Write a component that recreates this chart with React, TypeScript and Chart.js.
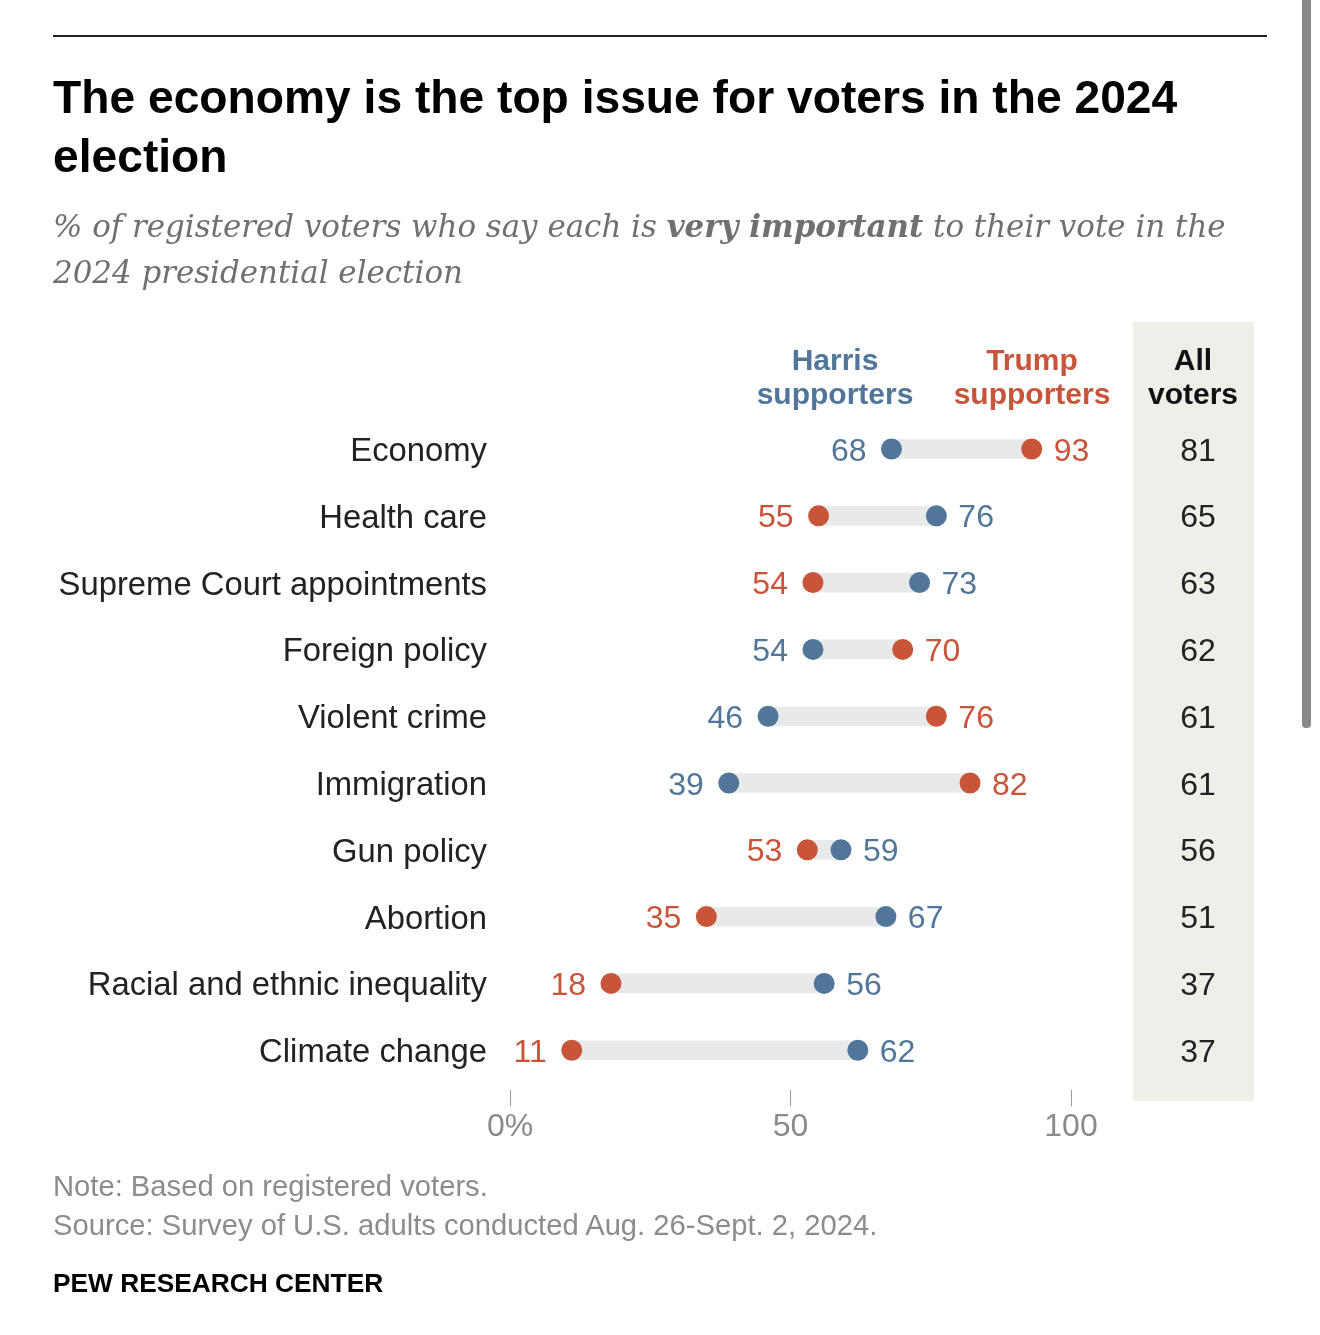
import React, { useEffect, useRef } from "react";
import { Chart, registerables } from "chart.js";

Chart.register(...registerables);

const categories = [
  "Economy",
  "Health care",
  "Supreme Court appointments",
  "Foreign policy",
  "Violent crime",
  "Immigration",
  "Gun policy",
  "Abortion",
  "Racial and ethnic inequality",
  "Climate change",
];
const harris = [68, 76, 73, 54, 46, 39, 59, 67, 56, 62];
const trump = [93, 55, 54, 70, 76, 82, 53, 35, 18, 11];
const allVoters = [81, 65, 63, 62, 61, 61, 56, 51, 37, 37];
const xTicks = [0, 50, 100];

const HARRIS = "#52769a";
const TRUMP = "#c8553a";
const SANS = "'Liberation Sans', Arial, sans-serif";

const labelsPlugin = {
  id: "dotLabels",
  beforeDatasetsDraw(chart: any) {
    const ctx = chart.ctx;
    ctx.save();
    ctx.fillStyle = "#efeee8";
    ctx.fillRect(1133, 322, 121, 779);
    ctx.restore();
  },
  afterDatasetsDraw(chart: any) {
    const ctx = chart.ctx;
    const xs = chart.scales.x;
    const ys = chart.scales.y;
    ctx.save();
    ctx.font = `32px ${SANS}`;
    ctx.textBaseline = "alphabetic";
    categories.forEach((_, i) => {
      const y = ys.getPixelForValue(i) + 11.5;
      const h = harris[i];
      const t = trump[i];
      const lowIsH = h <= t;
      const low = lowIsH ? h : t;
      const high = lowIsH ? t : h;
      ctx.textAlign = "right";
      ctx.fillStyle = lowIsH ? HARRIS : TRUMP;
      ctx.fillText(String(low), xs.getPixelForValue(low) - 25, y);
      ctx.textAlign = "left";
      ctx.fillStyle = lowIsH ? TRUMP : HARRIS;
      ctx.fillText(String(high), xs.getPixelForValue(high) + 22, y);
      ctx.textAlign = "center";
      ctx.fillStyle = "#222";
      ctx.fillText(String(allVoters[i]), 1198, y);
    });
    ctx.font = `bold 30px ${SANS}`;
    ctx.textAlign = "center";
    ctx.fillStyle = HARRIS;
    ctx.fillText("Harris", 835, 370);
    ctx.fillText("supporters", 835, 404);
    ctx.fillStyle = TRUMP;
    ctx.fillText("Trump", 1032, 370);
    ctx.fillText("supporters", 1032, 404);
    ctx.fillStyle = "#111";
    ctx.fillText("All", 1193, 370);
    ctx.fillText("voters", 1193, 404);
    ctx.restore();
  },
};

function DotChart() {
  const ref = useRef<HTMLCanvasElement | null>(null);
  useEffect(() => {
    if (!ref.current) return;
    const chart = new Chart(ref.current, {
      type: "bar",
      data: {
        datasets: [
          {
            type: "scatter",
            label: "Harris supporters",
            data: harris.map((v, i) => ({ x: v, y: i })),
            backgroundColor: HARRIS,
            borderWidth: 0,
            pointRadius: 10.5,
            order: 0,
          } as any,
          {
            type: "scatter",
            label: "Trump supporters",
            data: trump.map((v, i) => ({ x: v, y: i })),
            backgroundColor: TRUMP,
            borderWidth: 0,
            pointRadius: 10.5,
            order: 0,
          } as any,
          {
            type: "bar",
            label: "gap",
            data: harris.map((v, i) => ({ x: [Math.min(v, trump[i]), Math.max(v, trump[i])], y: i })),
            backgroundColor: "#e8e9ea",
            borderWidth: 0,
            barThickness: 19,
            order: 1,
          } as any,
        ],
      },
      options: {
        indexAxis: "y",
        animation: false,
        responsive: false,
        devicePixelRatio: 1,
        layout: { padding: { left: 0, right: 249, top: 415.6, bottom: 0 } },
        plugins: { legend: { display: false }, tooltip: { enabled: false } },
        scales: {
          x: {
            type: "linear",
            position: "bottom",
            min: 0,
            max: 100,
            offset: false,
            afterBuildTicks: (axis: any) => {
              axis.ticks = xTicks.map((v) => ({ value: v }));
            },
            afterFit: (axis: any) => {
              axis.height = 244.7;
            },
            border: { display: false },
            grid: { drawOnChartArea: false, drawTicks: true, tickLength: 16, color: "#9a9a9a", lineWidth: 1, offset: false },
            ticks: {
              padding: 2,
              color: "#8a8a8a",
              font: { family: SANS, size: 32 },
              callback: (v: any) => (v === 0 ? "0%" : String(v)),
              maxRotation: 0,
            },
          },
          y: {
            type: "linear",
            min: -0.5,
            max: 9.6,
            reverse: true,
            offset: false,
            afterBuildTicks: (axis: any) => {
              axis.ticks = categories.map((_, i) => ({ value: i }));
            },
            afterFit: (axis: any) => {
              axis.width = 510;
            },
            border: { display: false },
            grid: { display: false, offset: false },
            ticks: {
              padding: 15,
              labelOffset: 3,
              color: "#222",
              font: { family: SANS, size: 32.8 },
              callback: (v: any) => categories[v] ?? "",
            },
          },
        },
      } as any,
      plugins: [labelsPlugin],
    });
    return () => chart.destroy();
  }, []);
  return (
    <canvas
      ref={ref}
      width={1320}
      height={1335}
      style={{ position: "absolute", left: 0, top: 0, width: 1320, height: 1335 }}
    />
  );
}

export default function App() {
  const abs: React.CSSProperties = { position: "absolute", whiteSpace: "nowrap" };
  return (
    <div style={{ position: "absolute", left: 0, top: 0, width: 1320, height: 1335, background: "#fff", overflow: "hidden" }}>
      <DotChart />
      <div style={{ ...abs, left: 53, top: 35, width: 1214, height: 2, background: "#222" }} />
      <div
        style={{
          ...abs,
          left: 53,
          top: 67.6,
          fontFamily: SANS,
          fontWeight: "bold",
          fontSize: 46.2,
          lineHeight: "59px",
          color: "#000",
        }}
      >
        The economy is the top issue for voters in the 2024
        <br />
        election
      </div>
      <div
        style={{
          ...abs,
          left: 53,
          top: 203,
          fontFamily: "'DejaVu Serif', serif",
          fontStyle: "italic",
          fontSize: 30.9,
          lineHeight: "46px",
          color: "#707070",
        }}
      >
        % of registered voters who say each is <b>very important</b> to their vote in the
        <br />
        2024 presidential election
      </div>
      <div style={{ ...abs, left: 53, top: 1167, fontFamily: SANS, fontSize: 29.2, lineHeight: "39px", color: "#8c8c8c" }}>
        Note: Based on registered voters.
        <br />
        Source: Survey of U.S. adults conducted Aug. 26-Sept. 2, 2024.
      </div>
      <div style={{ ...abs, left: 53, top: 1268, fontFamily: SANS, fontWeight: "bold", fontSize: 26.3, lineHeight: "30px", color: "#000" }}>
        PEW RESEARCH CENTER
      </div>
      <div style={{ ...abs, left: 1302, top: 0, width: 9, height: 728, background: "#888", borderRadius: "0 0 4px 4px" }} />
    </div>
  );
}
